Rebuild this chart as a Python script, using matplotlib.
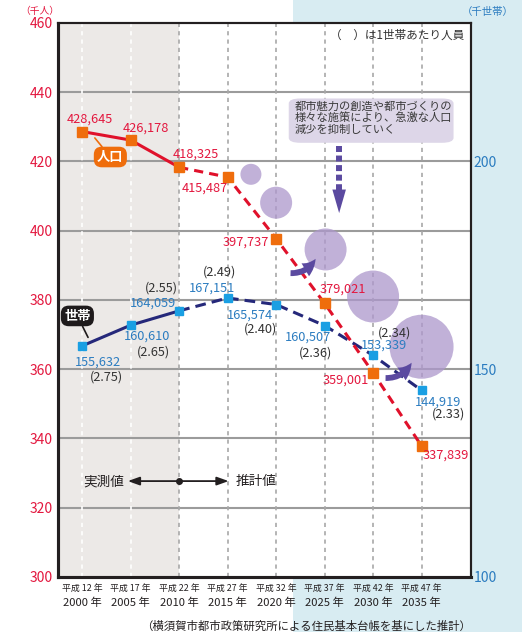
import matplotlib
matplotlib.use("Agg")
import matplotlib.pyplot as plt
from matplotlib.patches import Rectangle, FancyBboxPatch, FancyArrowPatch, Polygon
import matplotlib.transforms as mtransforms

plt.rcParams['font.family'] = ['Noto Sans CJK JP', 'DejaVu Sans']

years = [2000, 2005, 2010, 2015, 2020, 2025, 2030, 2035]
heisei = [12, 17, 22, 27, 32, 37, 42, 47]
population = [428.645, 426.178, 418.325, 415.487, 397.737, 379.021, 359.001, 337.839]
pop_labels = ['428,645', '426,178', '418,325', '415,487', '397,737', '379,021', '359,001', '337,839']
households = [155.632, 160.610, 164.059, 167.151, 165.574, 160.507, 153.339, 144.919]
hh_labels = ['155,632', '160,610', '164,059', '167,151', '165,574', '160,507', '153,339', '144,919']
per_household = ['(2.75)', '(2.65)', '(2.55)', '(2.49)', '(2.40)', '(2.36)', '(2.34)', '(2.33)']

# decorative bubbles (x in years, y on the population axis, diameter in px)
bubble_x = [2017.4, 2020.0, 2025.1, 2030.0, 2035.0]
bubble_y = [416.3, 408.1, 394.6, 381.0, 366.5]
bubble_d = [21, 32, 42, 52, 64]

RED_TXT = '#e3173e'
RED = '#e0112b'
ORANGE = '#ef6d0c'
NAVY = '#25287a'
LBLUE = '#1a9fe3'
BLUE_TXT = '#2b7cc0'
PURPLE = '#ad97cc'
DPURPLE = '#5b4aa0'
DARK = '#231f20'

fig = plt.figure(figsize=(5.22, 6.32), dpi=100)
bg = Rectangle((293 / 522, 0), 1 - 293 / 522, 1, transform=fig.transFigure,
               facecolor='#d8ecf2', edgecolor='none', zorder=-5)
fig.patches.append(bg)

ax = fig.add_axes([58 / 522, 1 - 577 / 632, 413 / 522, 554 / 632])
ax.set_facecolor('white')
ax.set_xlim(1997.5, 2040.1)
ax.set_ylim(300, 460)
ax2 = ax.twinx()
ax2.set_ylim(100, 100 + 160 * 50 / 60)

# shading for measured period
ax.axvspan(1997.5, 2010, color='#ece9e7', zorder=0, lw=0)

# grid
for v in range(320, 460, 20):
    ax.axhline(v, color='#9b9b9b', lw=1.5, zorder=1)
for yr in years:
    c = 'white' if yr < 2010 else '#a8a8a8'
    ax.axvline(yr, color=c, lw=1.2, dashes=(2.5, 2.5), zorder=1)

# bubbles
ax.scatter(bubble_x, bubble_y, s=[(d * 0.72) ** 2 for d in bubble_d], color=PURPLE,
           alpha=0.75, edgecolors='none', zorder=2)

# households (right axis)
ax.plot(years[:3], households[:3], color=NAVY, lw=2.2, transform=ax2.transData, zorder=3)
ax.plot(years[2:], households[2:], color=NAVY, lw=2.2, dashes=(3.5, 2), transform=ax2.transData, zorder=3)
ax.plot(years, households, ls='none', marker='s', ms=6, color=LBLUE, transform=ax2.transData, zorder=4)

# population (left axis)
ax.plot(years[:3], population[:3], color=RED, lw=2.2, zorder=5)
ax.plot(years[2:], population[2:], color=RED, lw=2.2, dashes=(3, 2), zorder=5)
ax.plot(years, population, ls='none', marker='s', ms=6.5, color=ORANGE, zorder=6)

# value labels (offsets in px)
pop_off = [(8, 12.6), (15, 12), (17, 13), (-22.5, -11), (-30, -3.5), (18.5, 14.4), (-27, -7.3), (24.5, -9)]
for x, y, t, (dx, dy) in zip(years, population, pop_labels, pop_off):
    ax.annotate(t, (x, y), xytext=(dx, dy), textcoords='offset pixels', ha='center', va='center',
                color=RED_TXT, fontsize=9.2, zorder=7)

hh_off = [(16, -16.4), (16, -11), (-26, 7.5), (-15.5, 9.6), (-26, -11), (-16.5, -11.7), (11, 10), (16.5, -11.7)]
par_off = [(24, -31.4), (23, -27), (-18, 22.5), (-8.5, 25.6), (-16, -24), (-9.5, -27.7), (21, 22), (26.5, -23.7)]
for x, y, t, p, (dx, dy), (px, py) in zip(years, households, hh_labels, per_household, hh_off, par_off):
    ax2.annotate(t, (x, y), xytext=(dx, dy), textcoords='offset pixels', ha='center', va='center',
                 color=BLUE_TXT, fontsize=9.2, zorder=7)
    ax2.annotate(p, (x, y), xytext=(px, py), textcoords='offset pixels', ha='center', va='center',
                 color='#333333', fontsize=9.2, zorder=7)

# series tags
ax.annotate('人口', xy=(2001.3, 426.8), xytext=(2002.9, 421.3), ha='center', va='center',
            color='white', fontsize=9.5, fontweight='bold', zorder=8,
            bbox=dict(boxstyle='round,pad=0.25,rounding_size=0.6', fc=ORANGE, ec='none'),
            arrowprops=dict(arrowstyle='-', color=ORANGE, lw=1.2, shrinkA=0, shrinkB=0))
ax.annotate('世帯', xy=(2000.6, 369.2), xytext=(1999.5, 375.4), ha='center', va='center',
            color='white', fontsize=9.5, fontweight='bold', zorder=8,
            bbox=dict(boxstyle='round,pad=0.25,rounding_size=0.6', fc='#1e1a1b', ec='none'),
            arrowprops=dict(arrowstyle='-', color='#1e1a1b', lw=1.2, shrinkA=0, shrinkB=0))

# callout
ax.add_patch(FancyBboxPatch((2021.3, 425.4), 17.0, 12.8, boxstyle='round,pad=0,rounding_size=1.2',
                            mutation_aspect=1.2, fc='#ddd6e8', ec='none', zorder=6))
ax.text(2021.9, 437.4, '都市魅力の創造や都市づくりの\n様々な施策により、急激な人口\n減少を抑制していく',
        ha='left', va='top', fontsize=8.1, color='#3a3a3a', linespacing=1.15, zorder=7)
ax.plot([2026.5, 2026.5], [424.6, 411.5], color=DPURPLE, lw=4.3, dashes=(1.0, 0.6), zorder=6)
ax.add_patch(Polygon([[2025.8, 411.9], [2027.2, 411.9], [2026.5, 405.1]], closed=True,
                     fc=DPURPLE, ec='none', zorder=6))

# curved arrows
for (x0, y0), (x1, y1) in [((2021.2, 387.8), (2024.2, 392.6)), ((2031.0, 357.5), (2034.1, 362.6))]:
    ax.add_patch(FancyArrowPatch((x0, y0), (x1, y1), connectionstyle='arc3,rad=0.35',
                                 arrowstyle='simple,head_length=0.9,head_width=0.9,tail_width=0.35',
                                 mutation_scale=12, fc=DPURPLE, ec='none', zorder=6))

# measured / estimated
ax.text(2004.3, 327.7, '実測値', ha='right', va='center', fontsize=9.8, color=DARK)
ax.text(2015.8, 327.7, '推計値', ha='left', va='center', fontsize=9.8, color=DARK)
ax.annotate('', xy=(2004.7, 327.7), xytext=(2010, 327.7),
            arrowprops=dict(arrowstyle='-|>,head_length=0.7,head_width=0.25', color=DARK, lw=1.3,
                            shrinkA=0, shrinkB=0))
ax.annotate('', xy=(2015.1, 327.7), xytext=(2010, 327.7),
            arrowprops=dict(arrowstyle='-|>,head_length=0.7,head_width=0.25', color=DARK, lw=1.3,
                            shrinkA=0, shrinkB=0))
ax.plot([2010], [327.7], marker='o', ms=4, color=DARK, zorder=7)

ax.text(0.983, 0.978, '（　）は1世帯あたり人員', transform=ax.transAxes, ha='right', va='center',
        fontsize=8.4, color='#333333')

# axes styling
ax.set_yticks(range(300, 461, 20))
ax.tick_params(axis='y', length=0, pad=4, labelcolor=RED_TXT, labelsize=10)
ax2.set_yticks([100, 150, 200])
ax2.tick_params(axis='y', length=0, pad=2, labelcolor=BLUE_TXT, labelsize=10)
ax.set_xticks([])
for a in (ax, ax2):
    for side in ['left', 'bottom']:
        a.spines[side].set_linewidth(2.2)
        a.spines[side].set_color(DARK)
    for side in ['top', 'right']:
        a.spines[side].set_linewidth(1.5)
        a.spines[side].set_color(DARK)

trans = mtransforms.blended_transform_factory(ax.transData, ax.transAxes)
for yr, h in zip(years, heisei):
    ax.text(yr, -11 / 554, f'平成 {h} 年', transform=trans, ha='center', va='center',
            fontsize=6.4, color=DARK)
    ax.text(yr, -26 / 554, f'{yr} 年', transform=trans, ha='center', va='center',
            fontsize=8.1, color=DARK)

fig.text(40 / 522, 1 - 11 / 632, '（千人）', ha='center', va='center', fontsize=7, color=RED_TXT)
fig.text(488 / 522, 1 - 12 / 632, '（千世帯）', ha='center', va='center', fontsize=7.5, color=BLUE_TXT)
fig.text(306 / 522, 1 - 626 / 632, '（横須賀市都市政策研究所による住民基本台帳を基にした推計）',
         ha='center', va='center', fontsize=8.2, color=DARK)

fig.savefig('out.png', dpi=100)
